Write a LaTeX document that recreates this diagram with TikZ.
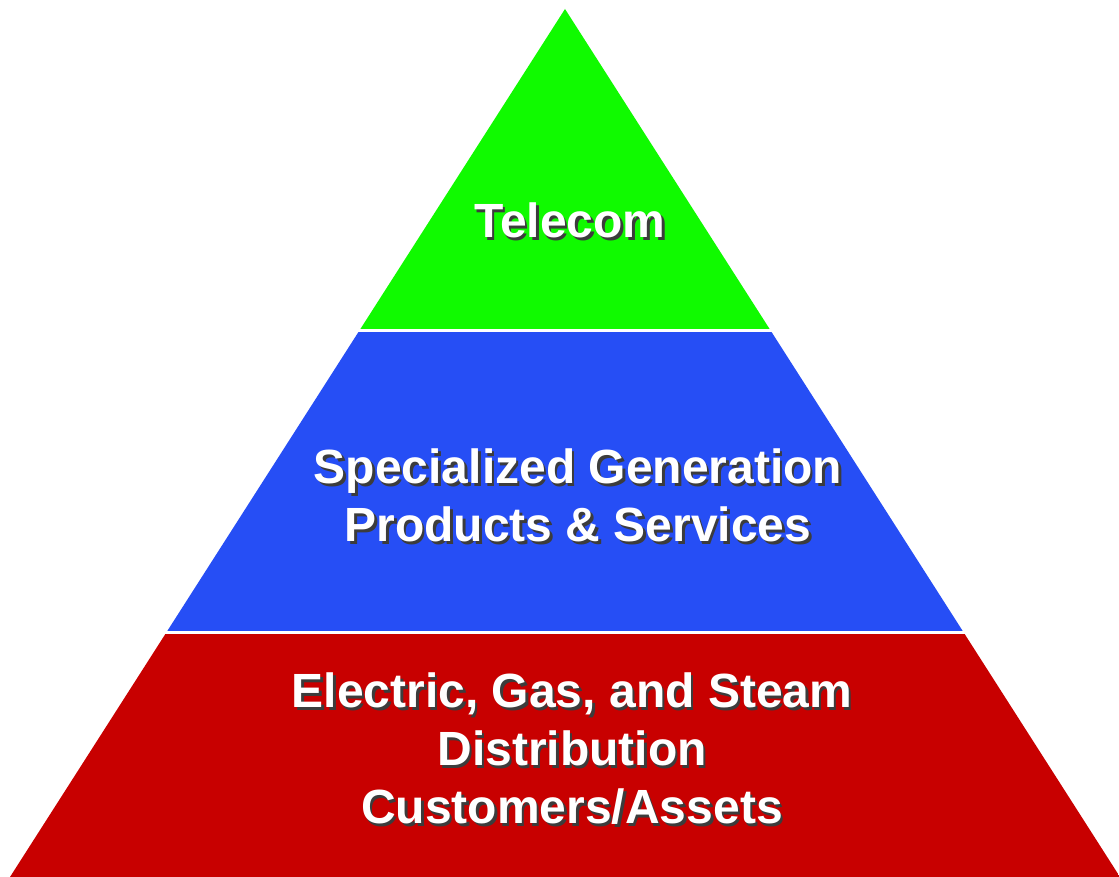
\documentclass[tikz,border=0pt]{standalone}
\usepackage{fontspec}
\setmainfont{Liberation Sans}
\definecolor{pgreen}{RGB}{16,250,0}
\definecolor{pblue}{RGB}{38,78,245}
\definecolor{pred}{RGB}{200,0,0}
\definecolor{shadowgray}{RGB}{60,60,60}
\newcommand{\shtxt}[1]{\leavevmode\rlap{\hspace{2.5pt}\raisebox{-2.5pt}{\textcolor{shadowgray}{#1}}}#1}
\tikzset{
  lbl/.style={align=center,font=\fontsize{48}{58}\selectfont\bfseries,text=white,inner sep=0pt}
}
\begin{document}
\begin{tikzpicture}[x=1pt,y=1pt]
\useasboundingbox (0,0) rectangle (1119,877);
\fill[white] (0,0) rectangle (1119,877);
\begin{scope}
  \clip (565,868) -- (10,0) -- (1120,0) -- cycle;
  \fill[pgreen] (0,548) rectangle (1119,877);
  \fill[pblue] (0,246) rectangle (1119,545);
  \fill[pred] (0,0) rectangle (1119,243);
\end{scope}
\node[lbl] (telecom) at (570,655) {\shtxt{Telecom}};
\node[lbl] (spec) at (578,380) {\shtxt{Specialized Generation}\\\shtxt{Products \& Services}};
\node[lbl] (elec) at (572,127) {\shtxt{Electric, Gas, and Steam}\\\shtxt{Distribution}\\\shtxt{Customers/Assets}};
\end{tikzpicture}
\end{document}
